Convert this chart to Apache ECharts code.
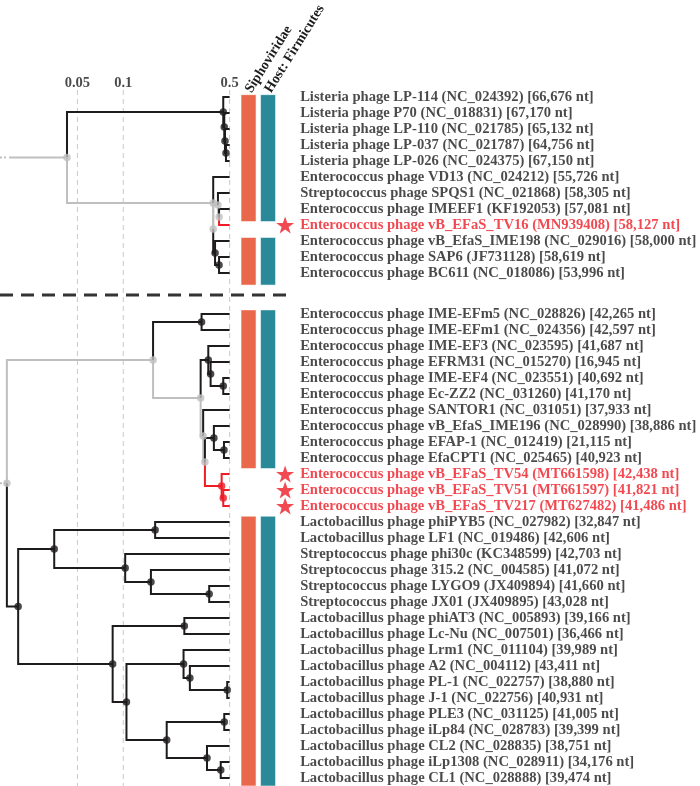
<!DOCTYPE html>
<html><head><meta charset="utf-8">
<script src="https://cdn.jsdelivr.net/npm/echarts/dist/echarts.min.js"></script>
<style>html,body{margin:0;padding:0;background:#fff}#c{width:700px;height:786px}</style>
</head><body><div id="c"></div>
<script>
// ---------------- data ----------------
const topLeaves = [
  'Listeria phage LP-114 (NC_024392) [66,676 nt]',
  'Listeria phage P70 (NC_018831) [67,170 nt]',
  'Listeria phage LP-110 (NC_021785) [65,132 nt]',
  'Listeria phage LP-037 (NC_021787) [64,756 nt]',
  'Listeria phage LP-026 (NC_024375) [67,150 nt]',
  'Enterococcus phage VD13 (NC_024212) [55,726 nt]',
  'Streptococcus phage SPQS1 (NC_021868) [58,305 nt]',
  'Enterococcus phage IMEEF1 (KF192053) [57,081 nt]',
  'Enterococcus phage vB_EFaS_TV16 (MN939408) [58,127 nt]',
  'Enterococcus phage vB_EfaS_IME198 (NC_029016) [58,000 nt]',
  'Enterococcus phage SAP6 (JF731128) [58,619 nt]',
  'Enterococcus phage BC611 (NC_018086) [53,996 nt]'
];
const bottomLeaves = [
  'Enterococcus phage IME-EFm5 (NC_028826) [42,265 nt]',
  'Enterococcus phage IME-EFm1 (NC_024356) [42,597 nt]',
  'Enterococcus phage IME-EF3 (NC_023595) [41,687 nt]',
  'Enterococcus phage EFRM31 (NC_015270) [16,945 nt]',
  'Enterococcus phage IME-EF4 (NC_023551) [40,692 nt]',
  'Enterococcus phage Ec-ZZ2 (NC_031260) [41,170 nt]',
  'Enterococcus phage SANTOR1 (NC_031051) [37,933 nt]',
  'Enterococcus phage vB_EfaS_IME196 (NC_028990) [38,886 nt]',
  'Enterococcus phage EFAP-1 (NC_012419) [21,115 nt]',
  'Enterococcus phage EfaCPT1 (NC_025465) [40,923 nt]',
  'Enterococcus phage vB_EFaS_TV54 (MT661598) [42,438 nt]',
  'Enterococcus phage vB_EFaS_TV51 (MT661597) [41,821 nt]',
  'Enterococcus phage vB_EFaS_TV217 (MT627482) [41,486 nt]',
  'Lactobacillus phage phiPYB5 (NC_027982) [32,847 nt]',
  'Lactobacillus phage LF1 (NC_019486) [42,606 nt]',
  'Streptococcus phage phi30c (KC348599) [42,703 nt]',
  'Streptococcus phage 315.2 (NC_004585) [41,072 nt]',
  'Streptococcus phage LYGO9 (JX409894) [41,660 nt]',
  'Streptococcus phage JX01 (JX409895) [43,028 nt]',
  'Lactobacillus phage phiAT3 (NC_005893) [39,166 nt]',
  'Lactobacillus phage Lc-Nu (NC_007501) [36,466 nt]',
  'Lactobacillus phage Lrm1 (NC_011104) [39,989 nt]',
  'Lactobacillus phage A2 (NC_004112) [43,411 nt]',
  'Lactobacillus phage PL-1 (NC_022757) [38,880 nt]',
  'Lactobacillus phage J-1 (NC_022756) [40,931 nt]',
  'Lactobacillus phage PLE3 (NC_031125) [41,005 nt]',
  'Lactobacillus phage iLp84 (NC_028783) [39,399 nt]',
  'Lactobacillus phage CL2 (NC_028835) [38,751 nt]',
  'Lactobacillus phage iLp1308 (NC_028911) [34,176 nt]',
  'Lactobacillus phage CL1 (NC_028888) [39,474 nt]'
];
const novelLeaves = [
  'Enterococcus phage vB_EFaS_TV16 (MN939408) [58,127 nt]',
  'Enterococcus phage vB_EFaS_TV54 (MT661598) [42,438 nt]',
  'Enterococcus phage vB_EFaS_TV51 (MT661597) [41,821 nt]',
  'Enterococcus phage vB_EFaS_TV217 (MT627482) [41,486 nt]'
];
// Newick topology; internal labels = node position on the (log) distance axis,
// suffix g = unsupported (grey) node, r = novel (red) clade
const topTree = '((t0,(t1,(t2,(t3,t4)0.473)0.466)0.461)0.454,(t5,((t6,(t7,t8)0.426g)0.419g,(t9,(t10,t11)0.426)0.401)0.390g)0.390g)0.0427g';
const bottomTree = '(((b0,b1)0.327,((b2,(b3,(b4,b5)0.454)0.375)0.362,(b6,((b7,(b8,b9)0.459)0.394,(b10,(b11,b12)0.454r)0.443r)0.344g)0.335g)0.3225g)0.157g,(((b13,b14)0.162,(b15,(b16,(b17,b18)0.367)0.152)0.103)0.0352,((b19,b20)0.252,((b21,(b22,(b23,b24)0.482)0.274)0.249,((b25,b26)0.461,(b27,(b28,b29)0.437)0.355)0.193)0.105)0.0852)0.0204)0.0172g';
const leafDistance = 0.5;
const tickValues = [0.05, 0.1, 0.5];
const tickLabels = ['0.05', '0.1', '0.5'];
const columnTitles = ['Siphoviridae', 'Host: Firmicutes'];

// ---------------- layout constants ----------------
const X_MIN = 0.0155, X_MAX = 1.4;
const TOP_ROW0 = 0, BOTTOM_ROW0 = 13.5625, SEPARATOR_ROW = 12.375;
const SEP_END = 1.3;
const FONT = '"Liberation Serif", "Times New Roman", serif';
const COL = { black: '#1E1B1C', gray: '#BFBFBF', red: '#EE1C25' };
const COLOR_KEYS = ['black', 'gray', 'red'];
const BAR_COLORS = ['#E9674B', '#2A8999'];

function parseNewick(s) {
  s = s.replace(/\s+/g, '');
  let i = 0;
  function node() {
    const n = {};
    if (s[i] === '(') {
      i++;
      n.children = [node()];
      while (s[i] === ',') { i++; n.children.push(node()); }
      i++;
    }
    let lab = '';
    while (i < s.length && !',()'.includes(s[i])) lab += s[i++];
    n.label = lab;
    return n;
  }
  return node();
}
function layout(node, leaves, row0) {
  if (!node.children) {
    const idx = parseInt(node.label.slice(1), 10);
    node.name = leaves[idx];
    node.y = row0 + idx;
    node.x = leafDistance;
    node.color = novelLeaves.includes(node.name) ? 'red' : 'black';
  } else {
    node.children.forEach(c => layout(c, leaves, row0));
    const m = node.label.match(/^([\d.]+)([gr]?)$/);
    node.x = parseFloat(m[1]);
    node.color = m[2] === 'g' ? 'gray' : (m[2] === 'r' ? 'red' : 'black');
    node.y = (node.children[0].y + node.children[node.children.length - 1].y) / 2;
  }
}
const edges = [], dots = { black: [], gray: [], red: [] }, leafItems = [], roots = [];
function collect(node) {
  if (!node.children) {
    leafItems.push(node);
    return;
  }
  dots[node.color].push([node.x, node.y]);
  node.children.forEach(c => {
    edges.push([node.x, node.y, c.x, c.y, COLOR_KEYS.indexOf(c.color)]);
    collect(c);
  });
}
[[topTree, topLeaves, TOP_ROW0], [bottomTree, bottomLeaves, BOTTOM_ROW0]].forEach(([nw, lv, r0]) => {
  const t = parseNewick(nw);
  layout(t, lv, r0);
  roots.push([X_MIN, t.y, t.x, t.y]);
  collect(t);
});

// bar segments (leaves with Siphoviridae / Firmicutes annotation = all non-novel)
const barSegs = [];
[[topLeaves, TOP_ROW0], [bottomLeaves, BOTTOM_ROW0]].forEach(([lv, r0]) => {
  let start = null;
  lv.forEach((n, i) => {
    const has = !novelLeaves.includes(n);
    if (has && start === null) start = i;
    if ((!has || i === lv.length - 1) && start !== null) {
      const end = has ? i : i - 1;
      for (let col = 0; col < columnTitles.length; col++) barSegs.push([col, r0 + start - 0.5, r0 + end + 0.5]);
      start = null;
    }
  });
});

const starPath = 'path://M50,0 L61.8,35.1 L98.1,35.1 L68.8,56.8 L79.4,91 L50,70 L20.6,91 L31.2,56.8 L1.9,35.1 L38.2,35.1 Z';

const chart = echarts.init(document.getElementById('c'), null, { renderer: 'canvas' });
chart.setOption({
  animation: false,
  backgroundColor: '#fff',
  grid: [
    { left: 0, top: 81, width: 297.7, height: 704 },
    { left: 238.8, top: 89, width: 39, height: 696 }
  ],
  xAxis: [
    { type: 'log', logBase: 10, min: X_MIN, max: X_MAX, show: false, gridIndex: 0 },
    { type: 'category', gridIndex: 1, data: columnTitles, position: 'top',
      axisLine: { show: false }, axisTick: { show: false }, splitLine: { show: false },
      axisLabel: { interval: 0, hideOverlap: false, rotate: 58, margin: 3, fontFamily: FONT, fontWeight: 'bold', fontSize: 14, color: COL.black } }
  ],
  yAxis: [
    { type: 'value', min: -1, max: 43, inverse: true, show: false, gridIndex: 0 },
    { type: 'value', min: -0.5, max: 43, inverse: true, show: false, gridIndex: 1 }
  ],
  series: [
    { // dashed scale lines
      type: 'custom', xAxisIndex: 0, yAxisIndex: 0, silent: true, z: 1,
      data: tickValues.map(v => [v, -0.44, 43.2]),
      encode: { x: 0, y: [1, 2] },
      renderItem: (p, api) => {
        const a = api.coord([api.value(0), api.value(1)]);
        const b = api.coord([api.value(0), api.value(2)]);
        return { type: 'line', shape: { x1: a[0], y1: a[1], x2: b[0], y2: b[1] },
          style: { stroke: '#C8C8C8', lineWidth: 1, lineDash: [5, 4] } };
      }
    },
    { // scale labels
      type: 'scatter', xAxisIndex: 0, yAxisIndex: 0, symbolSize: 0, silent: true, z: 3,
      data: tickValues.map((v, i) => ({ value: [v, -0.875], name: tickLabels[i] })),
      label: { show: true, position: 'inside', formatter: p => p.name,
        fontFamily: FONT, fontWeight: 'bold', fontSize: 14.5, color: COL.black }
    },
    { // separator
      type: 'custom', xAxisIndex: 0, yAxisIndex: 0, silent: true, z: 2,
      data: [[X_MIN, SEPARATOR_ROW, SEP_END]],
      encode: { x: [0, 2], y: 1 },
      renderItem: (p, api) => {
        const a = api.coord([api.value(0), api.value(1)]);
        const b = api.coord([api.value(2), api.value(1)]);
        return { type: 'line', shape: { x1: a[0], y1: a[1], x2: b[0], y2: b[1] },
          style: { stroke: '#333', lineWidth: 3, lineDash: [13, 8] } };
      }
    },
    { // root stems (truncated: dotted at far left, then solid)
      type: 'custom', xAxisIndex: 0, yAxisIndex: 0, silent: true, z: 3,
      data: roots, encode: { x: [0, 2], y: [1, 3] },
      renderItem: (p, api) => {
        const a = api.coord([api.value(0), api.value(1)]);
        const b = api.coord([api.value(2), api.value(3)]);
        return { type: 'line', shape: { x1: a[0], y1: a[1], x2: b[0], y2: b[1] },
          style: { stroke: COL.gray, lineWidth: 2, lineDash: [2, 2, 2, 3, 1000, 0] } };
      }
    },
    { // tree edges
      type: 'custom', xAxisIndex: 0, yAxisIndex: 0, silent: true, z: 4,
      data: edges, encode: { x: [0, 2], y: [1, 3] },
      renderItem: (p, api) => {
        const a = api.coord([api.value(0), api.value(1)]);
        const c = api.coord([api.value(2), api.value(3)]);
        return { type: 'polyline', shape: { points: [a, [a[0], c[1]], c] },
          style: { stroke: COL[COLOR_KEYS[api.value(4)]], lineWidth: 2, fill: null, lineJoin: 'miter' } };
      }
    },
    ...['gray', 'black', 'red'].map(k => ({
      type: 'scatter', xAxisIndex: 0, yAxisIndex: 0, silent: true, z: 5,
      symbol: 'circle', symbolSize: 7.5, data: dots[k], itemStyle: { color: COL[k] }
    })),
    { // leaf labels
      type: 'scatter', xAxisIndex: 0, yAxisIndex: 0, symbolSize: 0, silent: true, z: 5,
      data: leafItems.map(l => ({ value: [l.x, l.y], name: l.name,
        label: { color: l.color === 'red' ? COL.red : COL.black } })),
      label: { show: true, position: 'right', distance: 70.5, formatter: p => p.name,
        fontFamily: FONT, fontWeight: 'bold', fontSize: 14.6 }
    },
    { // stars for novel phages
      type: 'scatter', xAxisIndex: 0, yAxisIndex: 0, silent: true, z: 5,
      symbol: starPath, symbolKeepAspect: true, symbolSize: 18, symbolOffset: [55.5, 0],
      itemStyle: { color: COL.red },
      data: leafItems.filter(l => l.color === 'red').map(l => [l.x, l.y])
    },
    { // annotation bars
      type: 'custom', xAxisIndex: 1, yAxisIndex: 1, silent: true, z: 2,
      data: barSegs, encode: { x: 0, y: [1, 2] },
      renderItem: (p, api) => {
        const a = api.coord([api.value(0), api.value(1)]);
        const b = api.coord([api.value(0), api.value(2)]);
        return { type: 'rect', shape: { x: a[0] - 7.5, y: a[1], width: 15, height: b[1] - a[1] },
          style: { fill: BAR_COLORS[api.value(0)], stroke: 'rgba(255,255,255,0.55)', lineWidth: 1 } };
      }
    }
  ]
});
</script></body></html>
